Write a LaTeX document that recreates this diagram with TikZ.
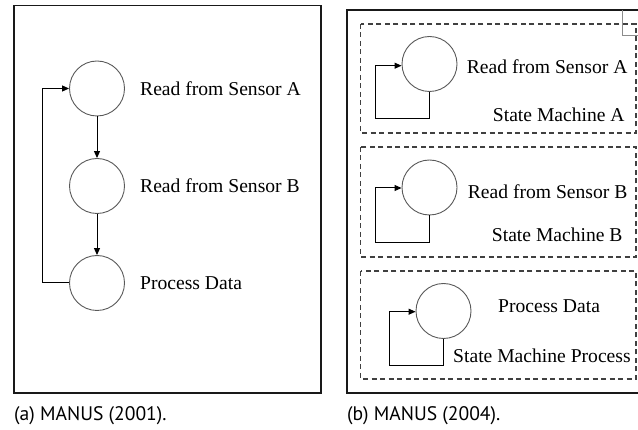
\documentclass[tikz,border=0pt]{standalone}
\usepackage{fontspec}
\setmainfont{Liberation Serif}
\newfontfamily\capfont{PT Sans}
\usetikzlibrary{arrows.meta}
\begin{document}
\begin{tikzpicture}[x=1pt,y=-1pt,
  stnode/.style={circle,draw=black!65,line width=0.9pt,minimum size=55pt,inner sep=0pt},
  lbl/.style={anchor=west,inner sep=0pt,font=\fontsize{19.6}{24}\selectfont},
  captxt/.style={anchor=west,inner sep=0pt,font=\capfont\fontsize{19.6}{23}\selectfont},
  framebox/.style={draw=black!90,line width=1.3pt},
  dbox/.style={draw=black!75,line width=1.2pt,dash pattern=on 5pt off 3.5pt},
  conn/.style={draw=black,line width=1pt,-{Triangle[length=7pt,width=6pt]}}]
\useasboundingbox (0,0) rectangle (638,430);
% ---------- panel (a)
\draw[framebox] (14,5.5) rectangle (321,393);
\node[stnode] (a1) at (97,88.5) {};
\node[stnode] (a2) at (97,186) {};
\node[stnode] (a3) at (97,283) {};
\node[lbl] (la1) at (140,88.5) {Read from Sensor A};
\node[lbl] (la2) at (140,186) {Read from Sensor B};
\node[lbl] (la3) at (140,283) {Process Data};
\draw[conn] (a1) -- (a2);
\draw[conn] (a2) -- (a3);
\coordinate (lp1) at (42,283);
\coordinate (lp2) at (42,88.5);
\draw[conn] (a3.west) -- (lp1) -- (lp2) -- (a1.west);
\node[captxt] (capa) at (14,415.5) {(a) MANUS (2001).};
% ---------- panel (b)
\draw[framebox] (640,10) -- (347,10) -- (347,393) -- (640,393);
\draw[draw=black!45,line width=0.7pt] (622.7,10) -- (622.7,35) -- (640,35);
\draw[dbox] (360.7,24) rectangle (636,133);
\draw[dbox] (360.7,147) rectangle (636,257);
\draw[dbox] (360.7,271) rectangle (636,379);
% box 1
\node[stnode] (b1) at (429.5,64) {};
\node[lbl] (lb1) at (466.7,66.7) {Read from Sensor A};
\node[lbl] (sb1) at (492.7,115) {State Machine A};
\coordinate (c1a) at (429.5,119);
\coordinate (c1b) at (375,119);
\coordinate (c1c) at (375,65.7);
\draw[conn] (b1.south) -- (c1a) -- (c1b) -- (c1c) -- (b1.west |- c1c);
% box 2
\node[stnode] (b2) at (429.5,187.5) {};
\node[lbl] (lb2) at (467.7,191.7) {Read from Sensor B};
\node[lbl] (sb2) at (491.7,235) {State Machine B};
\coordinate (c2a) at (429.5,242.3);
\coordinate (c2b) at (375,242.3);
\coordinate (c2c) at (375,188);
\draw[conn] (b2.south) -- (c2a) -- (c2b) -- (c2c) -- (b2.west |- c2c);
% box 3
\node[stnode] (b3) at (443.5,311) {};
\node[lbl] (lb3) at (498,306) {Process Data};
\node[lbl] (sb3) at (453,356) {State Machine Process};
\coordinate (c3a) at (443.5,365.7);
\coordinate (c3b) at (389,365.7);
\coordinate (c3c) at (389,311.7);
\draw[conn] (b3.south) -- (c3a) -- (c3b) -- (c3c) -- (b3.west |- c3c);
\node[captxt] (capb) at (347,415.5) {(b) MANUS (2004).};
\end{tikzpicture}
\end{document}
